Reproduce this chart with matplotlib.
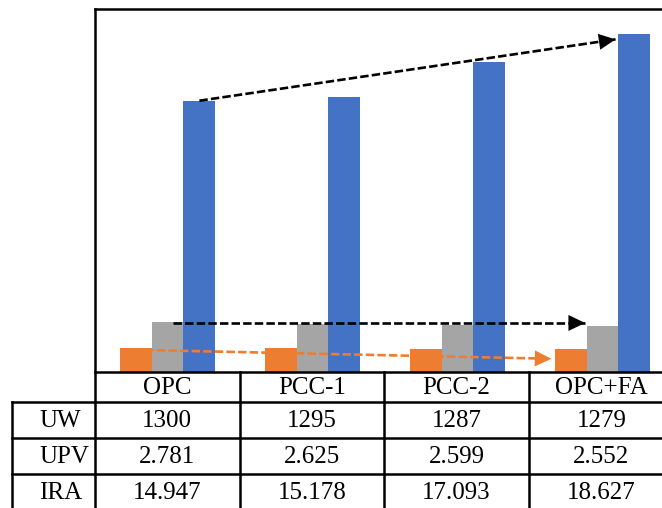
import matplotlib
matplotlib.use("Agg")
import matplotlib.pyplot as plt
import numpy as np

plt.rcParams['font.family'] = ['Liberation Serif', 'DejaVu Serif']

# data
categories = ['OPC', 'PCC-1', 'PCC-2', 'OPC+FA']
row_labels = ['UW', 'UPV', 'IRA']
uw = [1300, 1295, 1287, 1279]
upv = [2.781, 2.625, 2.599, 2.552]
ira = [14.947, 15.178, 17.093, 18.627]

c_orange = '#ED7D31'
c_gray = '#A5A5A5'
c_blue = '#4472C4'

W, H = 662, 508
fig = plt.figure(figsize=(W / 100, H / 100), dpi=100)

# main bar axes (pixel layout -> figure fractions); right side runs off the canvas
ax_l, ax_r, ax_t, ax_b = 95, 675, 9, 372
ax = fig.add_axes([ax_l / W, 1 - ax_b / H, (ax_r - ax_l) / W, (ax_b - ax_t) / H])

x = np.arange(len(categories))
bw = 0.22
uw_k = [v / 1000 for v in uw]   # UW plotted in thousands
ax.bar(x - bw, uw_k, bw, color=c_orange)
ax.bar(x, upv, bw, color=c_gray)
ax.bar(x + bw, ira, bw, color=c_blue)

ax.set_xlim(-0.5, len(categories) - 0.5)
ax.set_ylim(0, 20)
ax.set_xticks([])
ax.set_yticks([])
for s in ['left', 'top', 'bottom', 'right']:
    ax.spines[s].set_linewidth(1.8)
    ax.spines[s].set_color('black')

dash = (0, (3.2, 1.2))

def trend(p0, p1, color):
    # dashed shaft
    ax.plot([p0[0], p1[0]], [p0[1], p1[1]], color=color, lw=1.9, linestyle=dash)
    # solid head at the end
    back = (p1[0] - (p1[0] - p0[0]) * 0.04, p1[1] - (p1[1] - p0[1]) * 0.04)
    ax.annotate('', xy=p1, xytext=back,
                arrowprops=dict(arrowstyle='-|>,head_length=0.75,head_width=0.36',
                                color=color, lw=0, shrinkA=0, shrinkB=0,
                                mutation_scale=16))

# trend arrows
trend((x[0] + bw, ira[0]), (x[-1] + bw / 2 - 0.02, ira[-1] - 0.3), 'black')
trend((x[0] + 0.04, upv[0] - 0.08), (x[-1] - bw / 2 - 0.01, upv[0] - 0.08), 'black')
trend((x[0] - bw * 0.7, uw_k[0] - 0.09), (x[-1] - bw * 1.6, uw_k[-1] - 0.55), c_orange)

# data table below the axes, drawn in pixel coordinates
tab = fig.add_axes([0, 0, 1, (H - ax_b) / H])
tab.set_xlim(0, W)
tab.set_ylim(H, ax_b)
tab.axis('off')

col_edges = [95, 239.5, 384, 529, 674]
row_edges = [372, 402, 438, 474, 510]
lab_left = 12
lw = 1.8
kw = dict(color='black', lw=lw, clip_on=False, solid_capstyle='projecting')

for y in row_edges[1:4]:
    tab.plot([lab_left, W], [y, y], **kw)
tab.plot([lab_left, lab_left], [row_edges[1], H], **kw)
for xe in col_edges[:4]:
    tab.plot([xe, xe], [row_edges[0], H], **kw)

fs = 18
for i, cat in enumerate(categories):
    cx = (col_edges[i] + col_edges[i + 1]) / 2
    tab.text(cx, (row_edges[0] + row_edges[1]) / 2 + 1, cat, ha='center', va='center', fontsize=fs)

rows = [[str(v) for v in uw],
        ['%.3f' % v for v in upv],
        ['%.3f' % v for v in ira]]
for r, (lab, vals) in enumerate(zip(row_labels, rows)):
    cy = (row_edges[r + 1] + row_edges[r + 2]) / 2 + 1
    tab.text(39, cy, lab, ha='left', va='center', fontsize=fs)
    for i, v in enumerate(vals):
        cx = (col_edges[i] + col_edges[i + 1]) / 2
        tab.text(cx, cy, v, ha='center', va='center', fontsize=fs)

fig.savefig('out.png', dpi=100)
